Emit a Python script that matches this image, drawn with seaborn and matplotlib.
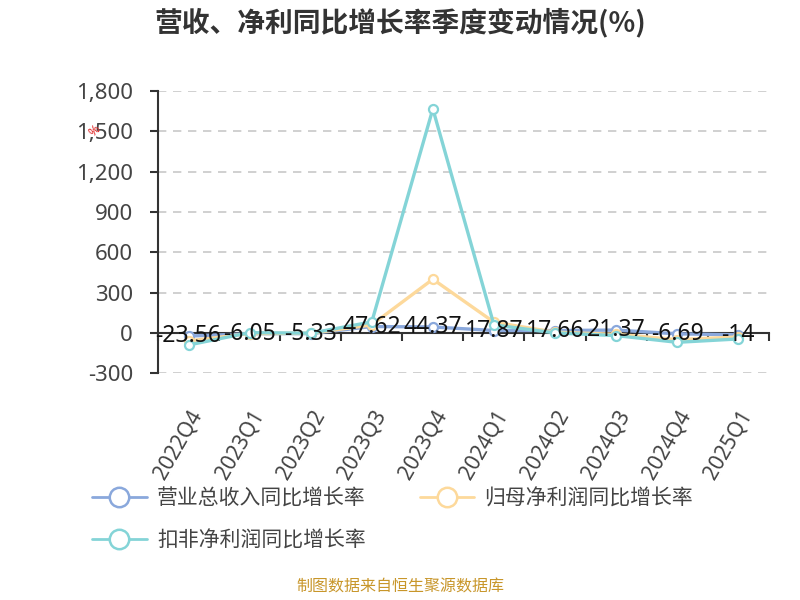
import pandas as pd
import matplotlib
matplotlib.use('Agg')
import matplotlib.pyplot as plt
import seaborn as sns
from matplotlib.lines import Line2D

# Data
quarters = ['2022Q4', '2023Q1', '2023Q2', '2023Q3', '2023Q4',
            '2024Q1', '2024Q2', '2024Q3', '2024Q4', '2025Q1']
revenue_yoy = [-23.56, -6.05, -5.33, 47.62, 44.37, 17.87, 17.66, 21.37, -6.69, -14]
parent_profit_yoy = [-60, -5, -3, 60, 400, 80, 5, -10, -50, -30]
deducted_profit_yoy = [-90, 2, -2, 82, 1668, 60, 0, -20, -70, -45]

series_names = ['营业总收入同比增长率', '归母净利润同比增长率', '扣非净利润同比增长率']
colors = ['#8aa8dc', '#fdd99b', '#84d4d7']

sns.set_theme(style='white')
plt.rcParams['font.family'] = ['Noto Sans', 'Noto Sans CJK SC', 'DejaVu Sans']

fig = plt.figure(figsize=(8, 6), dpi=100)
ax = fig.add_axes([0.1975, 0.378, 0.7635, 0.47])

x = list(range(len(quarters)))
for vals, color in zip([revenue_yoy, parent_profit_yoy, deducted_profit_yoy], colors):
    sns.lineplot(x=x, y=vals, ax=ax, color=color, linewidth=2.4, marker='o',
                 markersize=6.5, markerfacecolor='white', markeredgecolor=color,
                 markeredgewidth=1.6, zorder=3)

# value labels for revenue growth
for xi, v in zip(x, revenue_yoy):
    ax.text(xi, v, f'{v:g}', ha='center', va='center', fontsize=16.5,
            color='#111111', zorder=5)

ax.set_xlim(-0.5, len(quarters) - 0.5)
ax.set_ylim(-300, 1800)
ax.set_yticks(range(-300, 1801, 300))
ax.set_yticklabels([f'{t:,}' for t in range(-300, 1801, 300)])
for t in range(-300, 1801, 300):
    if t != 0:
        ax.axhline(t, color='#c8c8c8', linestyle=(0, (5, 4)), linewidth=1.2, zorder=1)

# axes styling
for s in ['top', 'right']:
    ax.spines[s].set_visible(False)
ax.spines['left'].set_color('#333333')
ax.spines['left'].set_linewidth(1.5)
ax.spines['bottom'].set_position(('data', 0))
ax.spines['bottom'].set_color('#333333')
ax.spines['bottom'].set_linewidth(1.5)
ax.spines['bottom'].set_zorder(2)

ax.tick_params(axis='y', which='major', direction='out', length=6, width=1.5,
               color='#333333', labelsize=16, labelcolor='#444444', pad=12, left=True)
ax.set_xticks(x)
ax.set_xticklabels(quarters, rotation=60, ha='right', rotation_mode='anchor')
ax.tick_params(axis='x', which='major', length=0, pad=53, labelsize=15,
               labelcolor='#444444')
ax.set_xticks([i - 0.5 for i in range(len(quarters) + 1)], minor=True)
ax.tick_params(axis='x', which='minor', direction='out', length=6, width=1.5,
               color='#333333', bottom=True)

# small red axis name
fig.text(0.118, 0.782, '%', color='#e02020', fontsize=9, rotation=45,
         ha='center', va='center')

fig.text(0.5, 0.962, '营收、净利同比增长率季度变动情况(%)', ha='center', va='center',
         fontsize=20, fontweight='bold', color='#333333',
         family=['Noto Sans CJK SC', 'DejaVu Sans'])

# legend laid out row by row (matplotlib fills columns first)
order = [0, 2, 1]
handles = [Line2D([0], [0], color=colors[i], linewidth=2, marker='o', markersize=14,
                  markerfacecolor='white', markeredgecolor=colors[i], markeredgewidth=1.8)
           for i in order]
fig.legend(handles, [series_names[i] for i in order], loc='upper left',
           bbox_to_anchor=(0.105, 0.2), ncol=2, frameon=False, fontsize=15,
           handlelength=2.6, handletextpad=0.5, columnspacing=2.6, labelspacing=1.0,
           labelcolor='#444444', borderaxespad=0)

fig.text(0.5, 0.02, '制图数据来自恒生聚源数据库', ha='center', va='center',
         fontsize=11.5, color='#c8962a')

fig.savefig('out.png', dpi=100)
